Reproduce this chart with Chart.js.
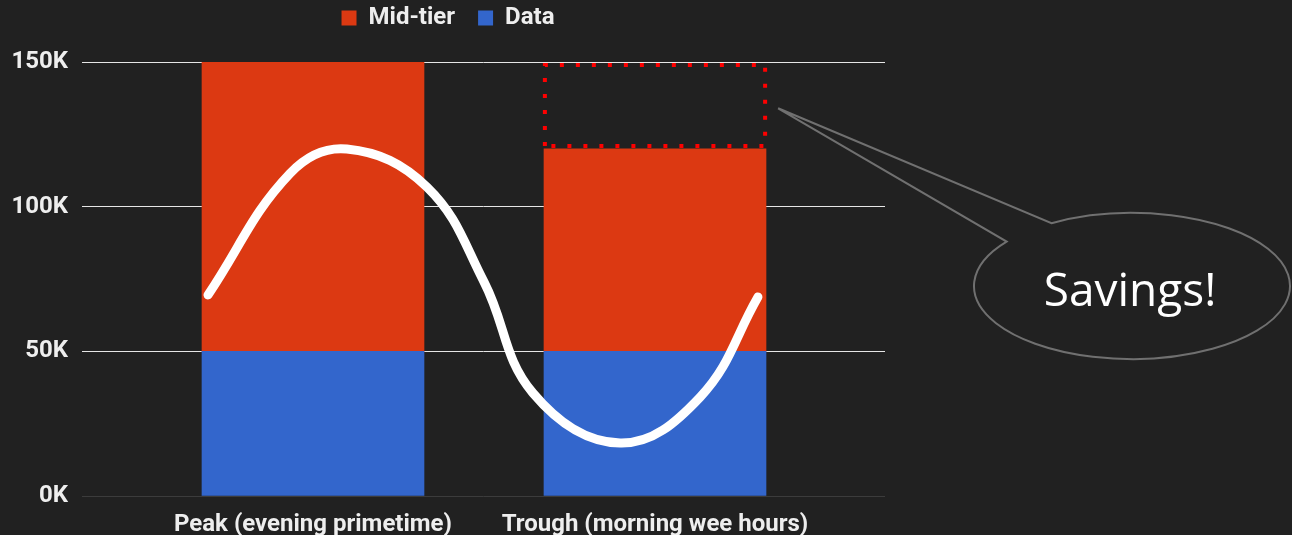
<!DOCTYPE html>
<html>
<head>
<meta charset="utf-8">
<script src="https://cdn.jsdelivr.net/npm/chart.js@4.4.1/dist/chart.umd.min.js"></script>
<style>
  html, body { margin: 0; padding: 0; background: #212121; }
  #wrap { width: 1292px; height: 535px; position: relative; }
</style>
</head>
<body>
<div id="wrap"><canvas id="chart"></canvas></div>
<script>
// ------------------ data ------------------
const categories = ['Peak (evening primetime)', 'Trough (morning wee hours)'];
const dataTier = [50000, 50000];
const midTier = [100000, 70000];
const yTicks = [0, 50000, 100000, 150000];

// white demand curve, x in category units (0 = Peak, 1 = Trough)
const curveX = [-0.307, -0.067, 0.099, 0.333, 0.500, 0.643, 0.898, 1.132, 1.301];
const curveY = [69500, 111500, 119900, 106800, 74000, 35600, 18300, 34200, 68800];

// dotted "savings" box over the trough bar
const savingsX = [0.678, 0.678, 1.322, 1.322, 0.678];
const savingsY = [121000, 149000, 149000, 121000, 121000];
const calloutText = 'Savings!';
const calloutTipY = 134000;

const BG = '#212121';
const TXT = '#eeeeee';

// ------------------ callout bubble ------------------
const calloutPlugin = {
  id: 'callout',
  afterDraw(chart) {
    const ctx = chart.ctx;
    const x = chart.scales.x, y = chart.scales.y;
    const tipX = x.getPixelForValue(savingsX[2]) + 13;
    const tipY = y.getPixelForValue(calloutTipY);
    const cx = 1132, cy = 286, rx = 158, ry = 73;
    const a1 = Math.atan2((222 - cy) / ry, (1050 - cx) / rx);   // upper base of pointer
    const a2 = Math.atan2((241 - cy) / ry, (1005 - cx) / rx);   // lower base of pointer
    ctx.save();
    ctx.beginPath();
    ctx.ellipse(cx, cy, rx, ry, 0, a1, a2 + Math.PI * 2, false);
    ctx.lineTo(tipX, tipY);
    ctx.closePath();
    ctx.fillStyle = BG;
    ctx.fill();
    ctx.strokeStyle = '#707070';
    ctx.lineWidth = 2;
    ctx.stroke();
    ctx.fillStyle = '#ffffff';
    ctx.font = '46px "Open Sans"';
    ctx.textAlign = 'center';
    ctx.textBaseline = 'alphabetic';
    ctx.fillText(calloutText, cx - 2, cy + 20);
    ctx.restore();
  }
};

// extra room under the legend
const legendGap = {
  id: 'legendGap',
  beforeInit(chart) {
    const fit = chart.legend.fit;
    chart.legend.fit = function() {
      fit.bind(chart.legend)();
      this.height += 22;
    };
  }
};

Chart.defaults.font.family = 'Roboto';
Chart.defaults.color = TXT;

const ctx = document.getElementById('chart').getContext('2d');
new Chart(ctx, {
  type: 'bar',
  data: {
    datasets: [
      {
        type: 'line',
        label: 'curve',
        data: curveX.map((v, i) => ({x: v, y: curveY[i]})),
        borderColor: '#ffffff',
        borderWidth: 9,
        borderCapStyle: 'round',
        tension: 0.4,
        pointRadius: 0,
        stack: 'curve',
        order: 0
      },
      {
        type: 'line',
        label: 'savings',
        data: savingsX.map((v, i) => ({x: v, y: savingsY[i]})),
        borderColor: '#ff0000',
        borderWidth: 4,
        borderDash: [4, 12],
        borderCapStyle: 'butt',
        tension: 0,
        pointRadius: 0,
        stack: 'savings',
        order: 1
      },
      {
        label: 'Data',
        data: dataTier.map((v, i) => ({x: i, y: v})),
        backgroundColor: '#3366cc',
        borderWidth: 0,
        barThickness: 222,
        stack: 'bars',
        order: 2
      },
      {
        label: 'Mid-tier',
        data: midTier.map((v, i) => ({x: i, y: v})),
        backgroundColor: '#dc3912',
        borderWidth: 0,
        barThickness: 222,
        stack: 'bars',
        order: 2
      }
    ]
  },
  options: {
    responsive: true,
    maintainAspectRatio: false,
    animation: false,
    layout: { padding: { left: 0, right: 396, top: -17, bottom: 0 } },
    plugins: {
      tooltip: { enabled: false },
      legend: {
        position: 'top',
        reverse: true,
        labels: {
          filter: (item) => item.text === 'Mid-tier' || item.text === 'Data',
          boxWidth: 15,
          boxHeight: 15,
          padding: 23,
          color: TXT,
          font: { size: 24, weight: 'bold' }
        }
      }
    },
    scales: {
      x: {
        type: 'linear',
        stacked: true,
        offset: false,
        min: -0.6754,
        max: 1.6725,
        grid: { display: false, offset: false },
        border: { display: false },
        afterBuildTicks: (s) => { s.ticks = categories.map((c, i) => ({value: i})); },
        afterFit: (s) => { s.height = 39; },
        ticks: {
          padding: 7,
          maxRotation: 0,
          autoSkip: false,
          color: TXT,
          font: { size: 24, weight: 'bold' },
          callback: (v) => categories[v]
        }
      },
      y: {
        stacked: true,
        min: 0,
        max: 150000,
        afterBuildTicks: (s) => { s.ticks = yTicks.map(v => ({value: v})); },
        afterFit: (s) => { s.width = 82; },
        grid: {
          drawTicks: false,
          color: (c) => c.tick && c.tick.value === 0 ? '#3c3c3c' : '#e6e6e6',
          lineWidth: 1
        },
        border: { display: false },
        ticks: {
          padding: 14,
          color: TXT,
          font: { size: 24, weight: 'bold' },
          callback: (v) => (v / 1000) + 'K'
        }
      },
      yr: {
        position: 'right',
        min: 0,
        max: 1,
        grid: { display: false },
        border: { display: false },
        ticks: { display: false },
        afterFit: (s) => { s.width = 11; }
      }
    }
  },
  plugins: [legendGap, calloutPlugin]
});
</script>
</body>
</html>
